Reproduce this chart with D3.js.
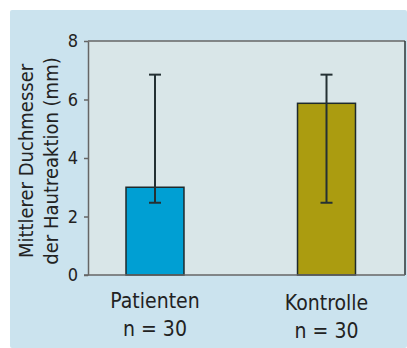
<!DOCTYPE html>
<html><head><meta charset="utf-8">
<script src="https://cdn.jsdelivr.net/npm/d3@7"></script>
<style>body{margin:0;background:#fff;}svg{display:block;}</style>
</head><body>
<script>
const categories = ["Patienten", "Kontrolle"];
const sampleSizes = ["n = 30", "n = 30"];
const means = [3.0, 5.87];
const errLow = [2.47, 2.47];
const errHigh = [6.85, 6.85];
const barColors = ["#009fd3", "#ab9c10"];
const yTicks = [0, 2, 4, 6, 8];
const yTitle = ["Mittlerer Duchmesser", "der Hautreaktion (mm)"];

const W = 407, H = 348;
const plot = {left: 88, right: 405, top: 41, bottom: 275};
const font = "'DejaVu Sans Condensed', 'Liberation Sans', sans-serif";

const svg = d3.select("body").append("svg").attr("width", W).attr("height", H);
svg.append("rect").attr("x", 10).attr("y", 10).attr("width", W - 10).attr("height", H - 10)
  .attr("rx", 2).attr("fill", "#cbe3ee");
svg.append("rect").attr("x", plot.left).attr("y", plot.top)
  .attr("width", plot.right - plot.left).attr("height", plot.bottom - plot.top)
  .attr("fill", "#d9e6e8");

const y = d3.scaleLinear().domain([0, 8]).range([plot.bottom, plot.top]);
const x = d3.scaleBand().domain(categories).range([plot.left, 393.5])
  .paddingInner(0.662).paddingOuter(0.2216);

// top and right borders
svg.append("line").attr("x1", plot.left).attr("x2", plot.right).attr("y1", plot.top).attr("y2", plot.top)
  .attr("stroke", "#666").attr("stroke-width", 1.5);
svg.append("line").attr("x1", plot.right).attr("x2", plot.right).attr("y1", plot.top).attr("y2", plot.bottom)
  .attr("stroke", "#2b3436").attr("stroke-width", 1.5);

// bars
svg.selectAll("rect.bar").data(categories).join("rect").attr("class", "bar")
  .attr("x", d => x(d)).attr("width", x.bandwidth())
  .attr("y", (d, i) => y(means[i])).attr("height", (d, i) => y(0) - y(means[i]))
  .attr("fill", (d, i) => barColors[i]).attr("stroke", "#1e2a2c").attr("stroke-width", 1.5);

// error bars
const eb = svg.selectAll("g.err").data(categories).join("g").attr("class", "err")
  .attr("stroke", "#243033").attr("stroke-width", 2);
eb.append("line").attr("x1", d => x(d) + x.bandwidth() / 2).attr("x2", d => x(d) + x.bandwidth() / 2)
  .attr("y1", (d, i) => y(errLow[i])).attr("y2", (d, i) => y(errHigh[i]));
eb.append("line").attr("x1", d => x(d) + x.bandwidth() / 2 - 6).attr("x2", d => x(d) + x.bandwidth() / 2 + 6)
  .attr("y1", (d, i) => y(errLow[i])).attr("y2", (d, i) => y(errLow[i]));
eb.append("line").attr("x1", d => x(d) + x.bandwidth() / 2 - 6).attr("x2", d => x(d) + x.bandwidth() / 2 + 6)
  .attr("y1", (d, i) => y(errHigh[i])).attr("y2", (d, i) => y(errHigh[i]));

// y axis
const yAxis = svg.append("g").attr("transform", `translate(${plot.left},0)`)
  .call(d3.axisLeft(y).tickValues(yTicks).tickSize(4).tickSizeOuter(0).tickPadding(6));
yAxis.select(".domain").attr("stroke", "#666").attr("stroke-width", 1.5);
yAxis.selectAll(".tick line").attr("stroke", "#666").attr("stroke-width", 1.5);
yAxis.selectAll(".tick text").attr("font-family", font).attr("font-size", 18).attr("fill", "#222");

// baseline
svg.append("line").attr("x1", plot.left - 4).attr("x2", plot.right).attr("y1", plot.bottom).attr("y2", plot.bottom)
  .attr("stroke", "#666").attr("stroke-width", 1.5);

// x labels
const labelBase = [308, 310];
svg.selectAll("text.cat").data(categories).join("text").attr("class", "cat")
  .attr("x", d => x(d) + x.bandwidth() / 2).attr("y", (d, i) => labelBase[i])
  .attr("text-anchor", "middle").attr("font-family", font).attr("font-size", 21).attr("fill", "#222")
  .text(d => d);
svg.selectAll("text.n").data(categories).join("text").attr("class", "n")
  .attr("x", d => x(d) + x.bandwidth() / 2).attr("y", (d, i) => labelBase[i] + 28)
  .attr("text-anchor", "middle").attr("font-family", font).attr("font-size", 21).attr("fill", "#222")
  .text((d, i) => sampleSizes[i]);

// y title
const yt = svg.append("text").attr("transform", `translate(33,161) rotate(-90)`)
  .attr("text-anchor", "middle").attr("font-family", font).attr("font-size", 20).attr("fill", "#222");
yt.append("tspan").attr("x", 0).attr("dy", 0).text(yTitle[0]);
yt.append("tspan").attr("x", 0).attr("dy", 25).text(yTitle[1]);
</script>
</body></html>
